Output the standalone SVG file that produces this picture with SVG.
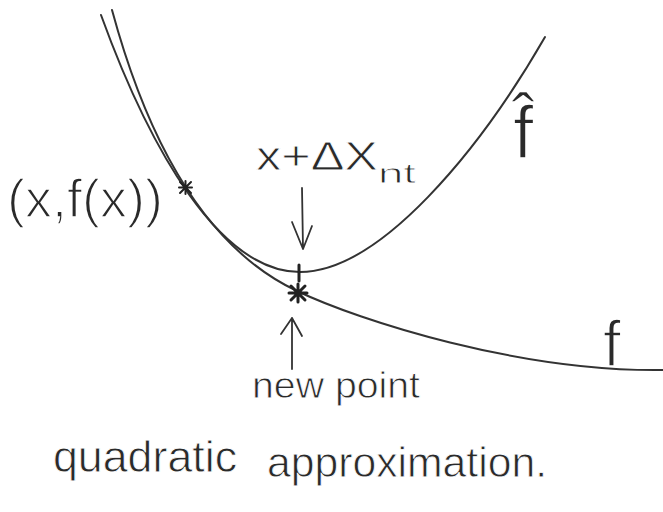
<svg xmlns="http://www.w3.org/2000/svg" width="663" height="512" viewBox="0 0 663 512">
  <style>
    .curve { fill: none; stroke: #333; stroke-width: 2; stroke-linecap: round; }
    .arrow { fill: none; stroke: #333; stroke-width: 1.8; stroke-linecap: round; stroke-linejoin: round; }
    .mark { fill: none; stroke: #222; stroke-linecap: round; }
    .hand { font-family: "Liberation Sans", "DejaVu Sans", sans-serif; fill: #2a2a2a; stroke: #ffffff; stroke-width: 0.8; paint-order: fill stroke; }
    .big { stroke-width: 1.6; }
  </style>
  <rect width="663" height="512" fill="#ffffff"/>

  <g id="curve-f-hat">
    <path class="curve" d="M101,15 C150,150 220,272 300,272 C380,272 480,150 545,37"/>
  </g>
  <g id="curve-f">
    <path class="curve" d="M112,10 C150,150 210,250 297,291 C360,321 520,372 663,370"/>
  </g>

  <g id="point-x">
    <path class="mark" stroke-width="2" d="M180,182 L191,193 M191,182 L180,193 M179,187.5 L192,187.5 M185.5,181 L185.5,194"/>
    <text class="hand big" x="7" y="217" font-size="54" textLength="156" lengthAdjust="spacingAndGlyphs">(x,f(x))</text>
  </g>

  <g id="point-newton">
    <path class="mark" stroke-width="3" d="M299,265 L299,281"/>
    <text class="hand" x="256" y="170" font-size="40" textLength="122" lengthAdjust="spacingAndGlyphs">x+ΔX</text>
    <text class="hand" x="378" y="183" font-size="28" textLength="38" lengthAdjust="spacingAndGlyphs">nt</text>
  </g>

  <g id="point-new">
    <path class="mark" stroke-width="3" d="M291,286 L305,300 M305,286 L291,300 M289,293 L307,293 M298,284 L298,302"/>
    <text class="hand" x="252" y="398" font-size="36" textLength="168" lengthAdjust="spacingAndGlyphs">new point</text>
  </g>

  <g id="label-f-hat">
    <text class="hand big" x="513" y="158" font-size="74" font-family="DejaVu Sans, sans-serif">f̂</text>
  </g>
  <g id="label-f">
    <text class="hand big" x="603" y="366" font-size="64">f</text>
  </g>

  <g id="caption">
    <text class="hand" x="53" y="472" font-size="44" textLength="184" lengthAdjust="spacingAndGlyphs">quadratic</text>
    <text class="hand" x="267" y="477" font-size="42" textLength="280" lengthAdjust="spacingAndGlyphs">approximation.</text>
  </g>

  <g id="connectors">
    <path class="arrow" d="M302,188 L303,249 M292,222 L303,249 L312,226"/>
    <path class="arrow" d="M292,369 L292,318 M281,334 L292,318 L302,336"/>
  </g>
</svg>
